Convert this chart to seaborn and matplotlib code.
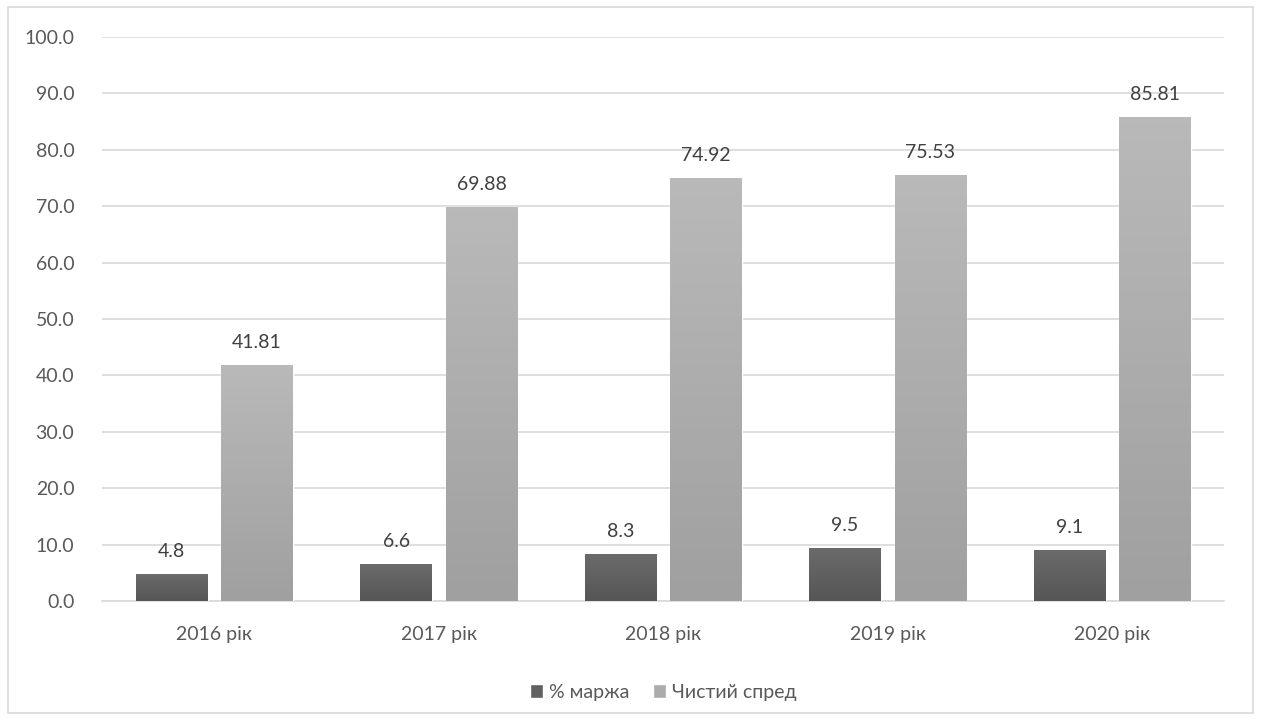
import matplotlib
matplotlib.use("Agg")
import matplotlib.pyplot as plt
import matplotlib.patches as mpatches
from matplotlib.colors import LinearSegmentedColormap
import numpy as np
import pandas as pd
import seaborn as sns

years = ["2016 рік", "2017 рік", "2018 рік", "2019 рік", "2020 рік"]
margin = [4.8, 6.6, 8.3, 9.5, 9.1]
spread = [41.81, 69.88, 74.92, 75.53, 85.81]
series_names = ["% маржа", "Чистий спред"]

df = pd.DataFrame({
    "year": years * 2,
    "value": margin + spread,
    "series": [series_names[0]] * len(years) + [series_names[1]] * len(years),
})

sns.set_theme(style="white")
plt.rcParams["font.family"] = ["Lato", "Open Sans", "DejaVu Sans"]

fig = plt.figure(figsize=(12.61, 7.2), dpi=100)
ax = fig.add_axes([0.081, 0.165, 0.89, 0.784])

palette = {series_names[0]: "#606060", series_names[1]: "#acacac"}
sns.barplot(data=df, x="year", y="value", hue="series", palette=palette,
            width=0.76, gap=0.16, saturation=1, ax=ax, zorder=3)

ax.set_ylim(0, 100)
xlim = ax.get_xlim()

# vertical gradient fill like the original office chart
gradients = [("#6b6b6b", "#565656"), ("#b9b9b9", "#a0a0a0")]
grad = np.linspace(0, 1, 64).reshape(-1, 1)
for cont, (top, bottom) in zip(ax.containers, gradients):
    cmap = LinearSegmentedColormap.from_list("g", [top, bottom])
    for bar in cont:
        x0, w, h = bar.get_x(), bar.get_width(), bar.get_height()
        im = ax.imshow(grad, cmap=cmap, aspect="auto", extent=(x0, x0 + w, 0, h),
                       origin="upper", zorder=3.5)
        im.set_clip_path(bar)
ax.set_xlim(xlim)
ax.set_ylim(0, 100)

# data labels
fs = 14
for cont, fmt in zip(ax.containers, ["{:.1f}", "{:.2f}"]):
    labels = [fmt.format(v) for v in cont.datavalues]
    ax.bar_label(cont, labels=labels, padding=10, fontsize=fs, color="#404040")

ax.set_yticks(range(0, 101, 10))
ax.set_yticklabels([f"{v:.1f}" for v in range(0, 101, 10)])
ax.yaxis.grid(True, color="#d9d9d9", linewidth=1.2, zorder=0)
ax.set_axisbelow(True)
ax.set_xlabel("")
ax.set_ylabel("")
for s in ["top", "right", "left"]:
    ax.spines[s].set_visible(False)
ax.spines["bottom"].set_color("#d9d9d9")
ax.spines["bottom"].set_linewidth(1.2)
ax.tick_params(axis="both", length=0, labelsize=fs, colors="#595959")
ax.tick_params(axis="y", pad=20)
ax.tick_params(axis="x", pad=18)

ax.legend(loc="upper center", bbox_to_anchor=(0.5, -0.115), ncol=2, frameon=False,
          fontsize=fs, handlelength=0.7, handleheight=0.7, handletextpad=0.3,
          columnspacing=1.2, labelcolor="#595959")

fig.patches.append(mpatches.Rectangle((0.006, 0.01), 0.988, 0.98, transform=fig.transFigure,
                                      fill=False, edgecolor="#d9d9d9", linewidth=1.2))

fig.savefig("out.png", dpi=100)
